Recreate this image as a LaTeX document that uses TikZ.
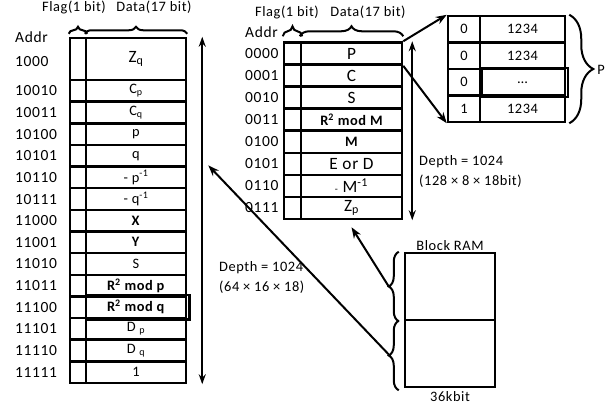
\documentclass[tikz,border=0pt]{standalone}
\usepackage{fontspec}
\setmainfont{Carlito}[LetterSpace=4]
\usepackage{tikz}
\usetikzlibrary{arrows.meta,positioning,calc,decorations.pathreplacing}

\tikzset{
  cellbox/.style={draw, line width=2.5pt, inner sep=0pt},
  lflag/.style={cellbox, minimum width=16pt, minimum height=21.64pt},
  ldata/.style={cellbox, minimum width=100pt, minimum height=21.64pt, font=\Large},
  rflag/.style={cellbox, minimum width=17pt, minimum height=22.06pt},
  rdata/.style={cellbox, minimum width=101pt, minimum height=22.06pt, font=\LARGE},
  sflag/.style={cellbox, minimum width=32pt, minimum height=26.5pt, font=\Large},
  sdata/.style={cellbox, minimum width=85pt, minimum height=26.5pt, font=\Large},
  ramblk/.style={cellbox, minimum width=90pt, minimum height=67pt},
  addr/.style={anchor=west, font=\fontsize{15.5}{18}\selectfont, inner sep=0pt},
  hdr/.style={font=\Large, inner sep=0pt},
  dtxt/.style={font=\Large, inner sep=0pt, anchor=west, align=left},
  arr/.style={line width=2pt, -{Stealth[length=11pt,width=8pt]}},
  dep/.style={line width=1.8pt, {Stealth[length=10pt,width=7pt]}-{Stealth[length=10pt,width=7pt]}},
  brc/.style={line width=2pt, decorate, decoration={brace, amplitude=#1}}
}

\begin{document}
\begin{tikzpicture}[x=1pt, y=-1pt]
\useasboundingbox (0,0) rectangle (615,410);

% --- left table: addresses 1000 .. 11111 ---
\node[hdr] (lhf) at (74,7) {Flag(1 bit)};
\node[hdr] (lhd) at (154,7) {Data(17 bit)};
\node[addr] (lad) at (15,37) {Addr};
\node[lflag, minimum height=42pt] (lfz) at (78,59) {};
\node[ldata, minimum height=42pt, font=\LARGE] (ldz) at (136,59) {Z\textsubscript{q}};
\node[addr] (laz) at (15,62) {1000};
\foreach \a/\t [count=\i] in {10010/C\textsubscript{p}, 10011/C\textsubscript{q},
    10100/p, 10101/q, 10110/- p\textsuperscript{-1}, 10111/- q\textsuperscript{-1},
    11000/\textbf{X}, 11001/\textbf{Y}, 11010/S,
    11011/\textbf{R\textsuperscript{2} mod p}, 11100/\textbf{R\textsuperscript{2} mod q},
    11101/D \textsubscript{p}, 11110/D \textsubscript{q}, 11111/1} {
  \pgfmathsetmacro\yc{80+(\i-0.5)*21.64}
  \node[lflag] (lf\i) at (78,\yc) {};
  \node[ldata] (ld\i) at (136,\yc) {\t};
  \node[addr] (la\i) at (15,\yc) {\a};
}
\draw[line width=2.5pt] ([xshift=1pt]ld11.north west) rectangle ([xshift=2pt]ld11.south east);
% header braces
\draw[brc=7pt] ([yshift=3pt]lfz.north west) -- ([yshift=3pt]lfz.north east);
\draw[brc=7pt] ([yshift=3pt]ldz.north west) -- ([yshift=3pt]ldz.north east);
% depth
\draw[dep] ([xshift=15pt]ldz.north east) -- ([xshift=15pt]ld14.south east);
\node[dtxt] (ldepth) at (219,277) {Depth = 1024\\[2pt](64 × 16 × 18)};

% --- right table: addresses 0000 .. 0111 ---
\node[hdr] (rhf) at (287,12) {Flag(1 bit)};
\node[hdr] (rhd) at (368,12) {Data(17 bit)};
\node[addr] (rad) at (245,32) {Addr};
\foreach \a/\t [count=\i] in {0000/P, 0001/C, 0010/S,
    0011/{\Large\bfseries R\textsuperscript{2} mod M}, 0100/{\Large\bfseries M},
    0101/E or D, 0110/{\normalsize -} M\textsuperscript{-1}, 0111/Z\textsubscript{p}} {
  \pgfmathsetmacro\yc{42.5+(\i-0.5)*22.06}
  \node[rflag] (rf\i) at (292.5,\yc) {};
  \node[rdata] (rd\i) at (351.5,\yc) {\t};
  \node[addr] (ra\i) at (245,\yc) {\a};
}
\draw[brc=10pt] ([yshift=5pt]rf1.north west) -- ([yshift=5pt]rf1.north east);
\draw[brc=10pt] ([yshift=5pt]rd1.north west) -- ([yshift=5pt]rd1.north east);
\draw[dep] ([xshift=9pt]rd1.north east) -- ([xshift=9pt]rd8.south east);
\node[dtxt] (rdepth) at (419,171) {Depth = 1024\\[2pt](128 × 8 × 18bit)};

% --- words of P ---
\foreach \f/\d [count=\i] in {0/1234, 0/1234, 0/{\dots}, 1/1234} {
  \pgfmathsetmacro\yc{16+(\i-0.5)*26.5}
  \node[sflag] (sf\i) at (464,\yc) {\f};
  \node[sdata] (sd\i) at (522.5,\yc) {\d};
}
\draw[line width=2.5pt] ([xshift=3pt]sd3.north west) rectangle ([xshift=1.5pt]sd3.south east);
\draw[brc=24pt] ([xshift=3pt]sd1.north east) -- ([xshift=3pt]sd4.south east);
\node[hdr, anchor=west] (plab) at ([xshift=31pt]sd2.south east) {P};
\draw[arr] (rd1.north east) -- (sf1.north west);
\draw[arr] (rd1.south east) -- (sf4.south west);

% --- Block RAM ---
\node[ramblk] (bram1) at (450,286.5) {};
\node[ramblk] (bram2) at (450,353.5) {};
\node[hdr, above=1pt of bram1] (bramlab) {Block RAM};
\node[hdr, below=3pt of bram2] (bramsize) {36kbit};
\draw[brc=10pt] ([xshift=-5pt]bram1.south west) -- ([xshift=-5pt]bram1.north west);
\draw[brc=10pt] ([xshift=-5pt,yshift=-2pt]bram2.south west) -- ([xshift=-5pt,yshift=-2pt]bram2.north west);
\coordinate (bt1) at ([xshift=-15pt]bram1.west);
\coordinate (bt2) at ([xshift=-15pt,yshift=-1pt]bram2.west);
\draw[arr] (bt1) -- ([yshift=-7pt]rd8.south);
\draw[arr] (bt2) -- ([xshift=21pt]ld5.north east);
\end{tikzpicture}
\end{document}
